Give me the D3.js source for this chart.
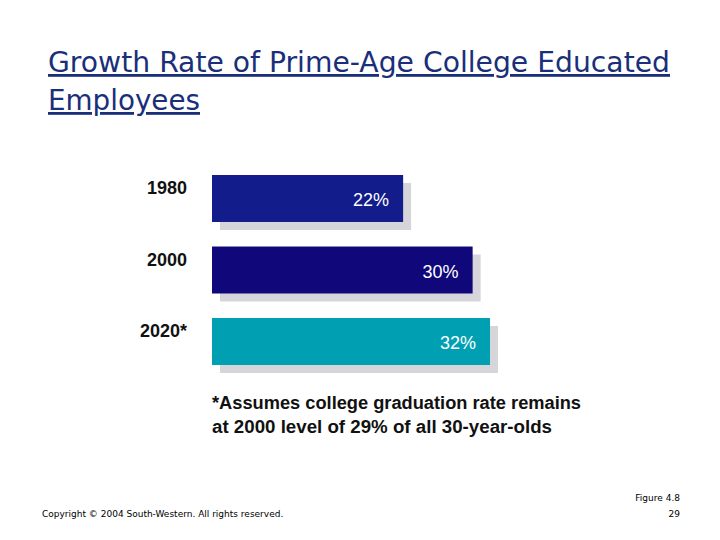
<html>
<head>
<script src="https://cdnjs.cloudflare.com/ajax/libs/d3/7.8.5/d3.min.js"></script>
<style>
body { margin: 0; background: #fff; }
</style>
</head>
<body>
<svg id="chart" width="720" height="540"></svg>
<script>
var years = ["1980", "2000", "2020*"];
var rates = [22, 30, 32];
var colors = ["#121c8a", "#10077a", "#00a0b2"];

var svg = d3.select("#chart");
var font = "Liberation Sans, Arial, sans-serif";

// title
svg.append("text").attr("x", 48).attr("y", 72)
   .style("font-family", "DejaVu Sans, Verdana, sans-serif").style("font-size", "28px")
   .attr("fill", "#1a2f7a").attr("text-decoration", "underline")
   .attr("textLength", 622).attr("lengthAdjust", "spacingAndGlyphs")
   .text("Growth Rate of Prime-Age College Educated");
svg.append("text").attr("x", 48).attr("y", 110)
   .style("font-family", "DejaVu Sans, Verdana, sans-serif").style("font-size", "28px")
   .attr("fill", "#1a2f7a").attr("text-decoration", "underline")
   .attr("textLength", 152).attr("lengthAdjust", "spacingAndGlyphs")
   .text("Employees");

var x = d3.scaleLinear().domain([0, 32]).range([212, 490]);
var y = d3.scaleBand().domain(years).range([175, 365]).paddingInner(0.343).paddingOuter(0);
var bh = y.bandwidth();

var g = svg.append("g");
// shadows
g.selectAll("rect.shadow").data(rates).enter().append("rect")
  .attr("x", x(0) + 8)
  .attr("y", function(d, i) { return y(years[i]) + 8; })
  .attr("width", function(d) { return x(d) - x(0); })
  .attr("height", bh)
  .attr("fill", "#d6d6da");
g.selectAll("rect.bar").data(rates).enter().append("rect")
  .attr("x", x(0))
  .attr("y", function(d, i) { return y(years[i]); })
  .attr("width", function(d) { return x(d) - x(0); })
  .attr("height", bh)
  .attr("fill", function(d, i) { return colors[i]; });
g.selectAll("text.val").data(rates).enter().append("text")
  .attr("x", function(d) { return x(d) - 14; })
  .attr("y", function(d, i) { return y(years[i]) + 31; })
  .attr("text-anchor", "end").attr("fill", "#fff")
  .style("font-family", font).style("font-size", "18px")
  .text(function(d) { return d + "%"; });
g.selectAll("text.year").data(years).enter().append("text")
  .attr("x", 187)
  .attr("y", function(d) { return y(d) + 19; })
  .attr("text-anchor", "end").attr("fill", "#111")
  .style("font-family", font).style("font-size", "18px").style("font-weight", "bold")
  .text(function(d) { return d; });

svg.append("text").attr("x", 212).attr("y", 409)
   .style("font-family", font).style("font-size", "18px").style("font-weight", "bold").attr("fill", "#111")
   .attr("textLength", 369).attr("lengthAdjust", "spacingAndGlyphs")
   .text("*Assumes college graduation rate remains");
svg.append("text").attr("x", 212).attr("y", 433)
   .style("font-family", font).style("font-size", "18px").style("font-weight", "bold").attr("fill", "#111")
   .attr("textLength", 340).attr("lengthAdjust", "spacingAndGlyphs")
   .text("at 2000 level of 29% of all 30-year-olds");

svg.append("text").attr("x", 42).attr("y", 517)
   .style("font-family", "DejaVu Sans, sans-serif").style("font-size", "9px")
   .text("Copyright © 2004 South-Western. All rights reserved.");
svg.append("text").attr("x", 680).attr("y", 501).attr("text-anchor", "end")
   .style("font-family", "DejaVu Sans, sans-serif").style("font-size", "9px")
   .text("Figure 4.8");
svg.append("text").attr("x", 680).attr("y", 517).attr("text-anchor", "end")
   .style("font-family", "DejaVu Sans, sans-serif").style("font-size", "9px")
   .text("29");
</script>
</body>
</html>
